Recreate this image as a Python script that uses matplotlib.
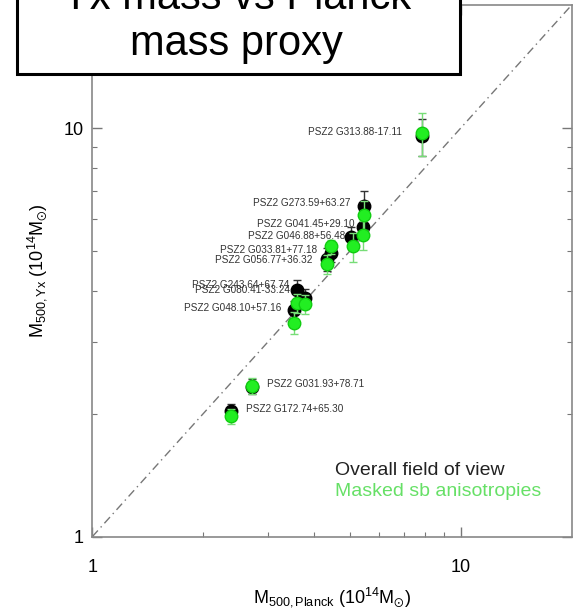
import matplotlib
matplotlib.use('Agg')
import matplotlib.pyplot as plt
from matplotlib.patches import Rectangle
from matplotlib.ticker import NullFormatter

plt.rcParams['font.family'] = ['Liberation Sans', 'DejaVu Sans']
plt.rcParams['mathtext.fontset'] = 'custom'
plt.rcParams['mathtext.rm'] = 'Liberation Sans'
plt.rcParams['mathtext.it'] = 'Liberation Sans:italic'
plt.rcParams['mathtext.default'] = 'regular'

# --- cluster masses (10^14 Msun) ---
names = ['PSZ2 G313.88-17.11', 'PSZ2 G273.59+63.27', 'PSZ2 G041.45+29.10',
         'PSZ2 G046.88+56.48', 'PSZ2 G033.81+77.18', 'PSZ2 G056.77+36.32',
         'PSZ2 G243.64+67.74', 'PSZ2 G080.41-33.24', 'PSZ2 G048.10+57.16',
         'PSZ2 G031.93+78.71', 'PSZ2 G172.74+65.30']
m_planck = [7.86, 5.47, 5.42, 5.04, 4.45, 4.33, 3.60, 3.77, 3.52, 2.72, 2.38]
m_yx_all = [9.54, 6.43, 5.71, 5.41, 4.94, 4.78, 4.02, 3.83, 3.58, 2.33, 2.03]
err_all = [1.0, 0.57, 0.37, 0.3, 0.25, 0.3, 0.23, 0.2, 0.2, 0.1, 0.08]
m_planck_mask = [7.86, 5.47, 5.42, 5.09, 4.45, 4.33, 3.60, 3.77, 3.52, 2.72, 2.38]
m_yx_mask = [9.72, 6.13, 5.48, 5.13, 5.13, 4.65, 3.73, 3.71, 3.34, 2.34, 1.97]
err_mask = [1.17, 0.5, 0.45, 0.42, 0.2, 0.25, 0.2, 0.2, 0.2, 0.1, 0.08]
# label offsets in pixels (dx, dy) from the black point
label_dx = [-20, -14, -8, -6, -14, -14, -8, -15, -12, 15, 15]
label_dy = [4, 3, 3, 1, 3, -1, 5, 8, 2, 3, 2]

green = '#22ee22'
fig = plt.figure(figsize=(5.82, 6.10), dpi=100)
ax = fig.add_axes([0.1586, 0.1202, 0.8237, 0.8716])

ax.plot([1, 20], [1, 20], color='#777777', lw=1, ls=(0, (6, 3, 1, 3)), zorder=1)

ax.errorbar(m_planck, m_yx_all, yerr=err_all, fmt='o', color='black', ms=9,
            ecolor='#333333', elinewidth=1, capsize=3, zorder=3)
ax.errorbar(m_planck_mask, m_yx_mask, yerr=err_mask, fmt='o', color=green,
            mec='#11cc11', ms=9, ecolor='#77dd77', elinewidth=1, capsize=3, zorder=4)

for i, n in enumerate(names):
    ha = 'right' if label_dx[i] < 0 else 'left'
    ax.annotate(n, (m_planck[i], m_yx_all[i]), xytext=(label_dx[i], label_dy[i]),
                textcoords='offset pixels', ha=ha, va='center', fontsize=7.2,
                color='#333333', zorder=5)

ax.set_xscale('log')
ax.set_yscale('log')
ax.set_xlim(1, 20)
ax.set_ylim(1, 20)
ax.set_xticks([1, 10])
ax.set_xticklabels(['1', '10'])
ax.set_yticks([1, 10])
ax.set_yticklabels(['1', '10'])
minors = [2, 3, 4, 5, 6, 7, 8, 9]
ax.set_xticks(minors, minor=True)
ax.set_yticks(minors, minor=True)
ax.xaxis.set_minor_formatter(NullFormatter())
ax.yaxis.set_minor_formatter(NullFormatter())
ax.tick_params(which='both', direction='in', top=True, right=True, color='#777777')
ax.tick_params(which='major', length=7, width=1)
ax.tick_params(which='minor', length=3.6, width=0.8)
ax.tick_params(axis='x', which='major', labelsize=13, pad=16)
ax.tick_params(axis='y', which='major', labelsize=13, pad=6)
for s in ax.spines.values():
    s.set_color('#888888')
    s.set_linewidth(1.2)

ax.set_xlabel(r'$M_{500,Planck}\ (10^{14}M_{\odot})$', fontsize=13)
ax.set_ylabel(r'$M_{500,Yx}\ (10^{14}M_{\odot})$', fontsize=13)
ax.xaxis.set_label_coords(0.5, -0.113)
ax.xaxis.label.set_va('center')
ax.yaxis.set_label_coords(-0.115, 0.5)
ax.yaxis.label.set_va('center')

ax.text(0.506, 0.116, 'Overall field of view', transform=ax.transAxes,
        fontsize=14, color='#222222', va='baseline')
ax.text(0.506, 0.0765, 'Masked sb anisotropies', transform=ax.transAxes,
        fontsize=14, color='#66e066', va='baseline')

# title box sticking out of the top
box = Rectangle((0.0287, 0.8787), 0.7617, 0.2, transform=fig.transFigure,
                facecolor='white', edgecolor='black', lw=2.2, zorder=10)
fig.add_artist(box)
fig.text(0.407, 0.9852, 'Yx mass vs Planck', fontsize=30, ha='center',
         va='baseline', zorder=11)
fig.text(0.407, 0.9098, 'mass proxy', fontsize=30, ha='center',
         va='baseline', zorder=11)

plt.savefig('out.png', dpi=100)
